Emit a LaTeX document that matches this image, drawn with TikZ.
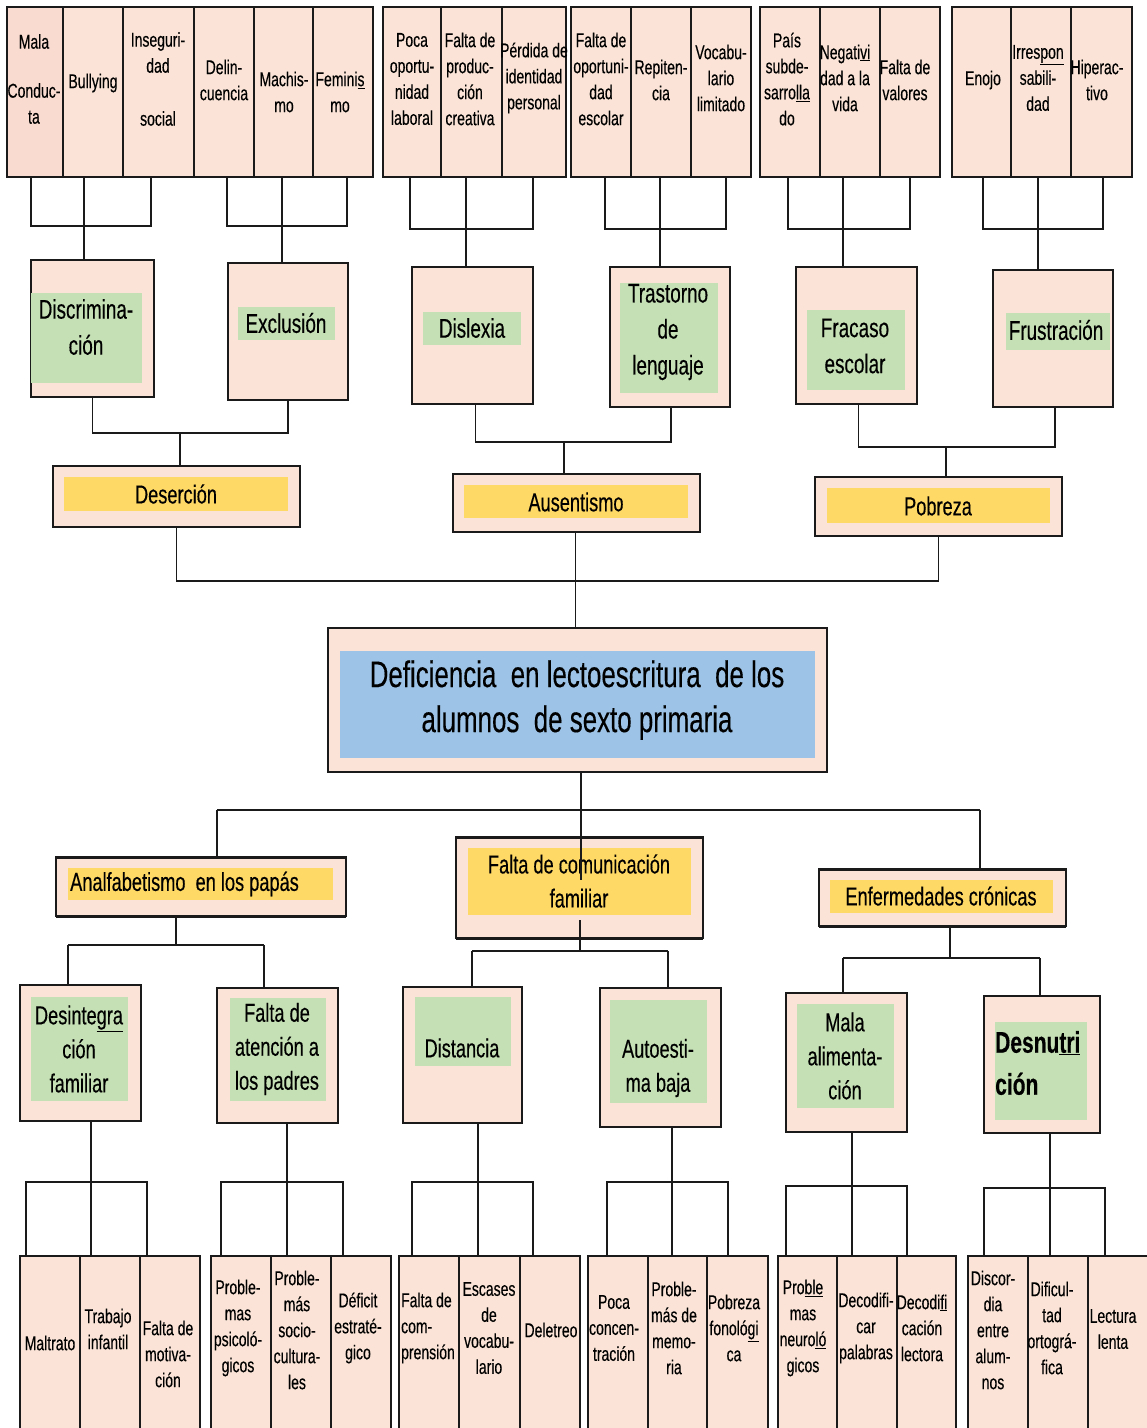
\documentclass[tikz,border=0pt]{standalone}
\usepackage{fontspec}
\setmainfont{Liberation Sans}[FakeStretch=0.7,FakeBold=0.3]
\usetikzlibrary{fit}
\definecolor{pk}{HTML}{FBE4D7}
\definecolor{pkb}{HTML}{F9DBCF}
\definecolor{gr}{HTML}{C5E0B4}
\definecolor{ye}{HTML}{FFD966}
\definecolor{bl}{HTML}{9DC3E6}
\definecolor{bd}{HTML}{1A1A1A}
\newcommand\rbox[6]{\node[#1, fit={(#3,#4) (#5,#6)}] (#2) {};}
\begin{document}
\begin{tikzpicture}[x=1pt,y=-1pt,
  cellbox/.style={draw=bd, fill=pk, line width=1.6pt, inner sep=0pt, outer sep=0pt},
  obox/.style={draw=bd, fill=pk, line width=2pt, inner sep=0pt, outer sep=0pt},
  greenr/.style={fill=gr, inner sep=0pt, outer sep=0pt},
  yellr/.style={fill=ye, inner sep=0pt, outer sep=0pt},
  bluer/.style={fill=bl, inner sep=0pt, outer sep=0pt},
  lnk/.style={draw=bd, line width=1.3pt},
  hlnk/.style={draw=bd, line width=2.4pt},
  ts/.style={font=\fontsize{20}{26}\selectfont, align=center, inner sep=0pt},
  tm/.style={font=\fontsize{27}{36}\selectfont, align=center, inner sep=0pt},
  tl/.style={font=\fontsize{26}{34}\selectfont, align=center, inner sep=0pt},
  tt/.style={font=\fontsize{37}{45}\selectfont, align=center, inner sep=0pt},
]
\useasboundingbox (0,0) rectangle (1147,1428);
\fill[white] (0,0) rectangle (1147,1428);

% ---------------- top cells ----------------
\rbox{cellbox,fill=pkb}{t1}{7}{7}{63}{177}
\rbox{cellbox}{t2}{63}{7}{123}{177}
\rbox{cellbox}{t3}{123}{7}{194}{177}
\rbox{cellbox}{t4}{194}{7}{254}{177}
\rbox{cellbox}{t5}{254}{7}{313}{177}
\rbox{cellbox}{t6}{313}{7}{373}{177}
\rbox{cellbox}{t7}{383}{7}{441}{177}
\rbox{cellbox}{t8}{441}{7}{502}{177}
\rbox{cellbox}{t9}{502}{7}{566}{177}
\rbox{cellbox}{t10}{571}{7}{631}{177}
\rbox{cellbox}{t11}{631}{7}{691}{177}
\rbox{cellbox}{t12}{691}{7}{751}{177}
\rbox{cellbox}{t13}{760}{7}{820}{177}
\rbox{cellbox}{t14}{820}{7}{880}{177}
\rbox{cellbox}{t15}{880}{7}{940}{177}
\rbox{cellbox}{t16}{952}{7}{1011}{177}
\rbox{cellbox}{t17}{1011}{7}{1071}{177}
\rbox{cellbox}{t18}{1071}{7}{1132}{177}

\node[ts] (tx1) at (34,79) {Mala\\[23pt]Conduc-\\ta};
\node[ts] (tx2) at (93,83) {Bullying};
\node[ts] (tx3) at (158,79) {Inseguri-\\dad\\[27pt]social};
\node[ts] (tx4) at (224,80) {Delin-\\cuencia};
\node[ts] (tx5) at (284,92) {Machis-\\mo};
\node[ts] (tx6) at (340,92) {Femini\underline{s}\\mo};
\node[ts] (tx7) at (412,79) {Poca\\oportu-\\nidad\\laboral};
\node[ts] (tx8) at (470,79) {Falta de\\produc-\\ción\\creativa};
\node[ts] (tx9) at (534,78) {Pérdida de\\identidad\\personal};
\node[ts] (tx10) at (601,79) {Falta de\\oportuni-\\dad\\escolar};
\node[ts] (tx11) at (661,80) {Repiten-\\cia};
\node[ts] (tx12) at (721,78) {Vocabu-\\lario\\limitado};
\node[ts] (tx13) at (787,79) {País\\subde-\\sarro\underline{lla}\\do};
\node[ts] (tx14) at (845,78) {Negati\underline{vi}\\dad a la\\vida};
\node[ts] (tx15) at (905,80) {Falta de\\valores};
\node[ts] (tx16) at (983,80) {Enojo};
\node[ts] (tx17) at (1038,78) {Irres\underline{pon}\\sabili-\\dad};
\node[ts] (tx18) at (1097,80) {Hiperac-\\tivo};

% ---------------- second row boxes ----------------
\rbox{obox}{disc}{31}{260}{154}{397}
\rbox{obox}{excl}{228}{263}{348}{400}
\rbox{obox}{disl}{412}{267}{533}{404}
\rbox{obox}{tras}{610}{267}{730}{407}
\rbox{obox}{frac}{796}{267}{917}{404}
\rbox{obox}{frus}{993}{270}{1113}{407}
\rbox{greenr}{discg}{31}{293}{142}{383}
\rbox{greenr}{exclg}{238}{307}{335}{340}
\rbox{greenr}{dislg}{423}{312}{521}{345}
\rbox{greenr}{trasg}{620}{283}{718}{393}
\rbox{greenr}{fracg}{807}{310}{905}{390}
\rbox{greenr}{frusg}{1006}{313}{1110}{350}
\node[tm] (discT) at (86,327) {Discrimina-\\ción};
\node[tm] (exclT) at (286,323) {Exclusión};
\node[tm] (dislT) at (472,328) {Dislexia};
\node[tm] (trasT) at (668,332) {Trastorno\\de\\lenguaje};
\node[tm] (fracT) at (855,346) {Fracaso\\escolar};
\node[tm] (frusT) at (1056,330) {Frustración};

% ---------------- third row ----------------
\rbox{obox}{deser}{53}{466}{300}{527}
\rbox{obox}{ausen}{453}{474}{700}{532}
\rbox{obox}{pobre}{815}{477}{1062}{536}
\rbox{yellr}{deserY}{64}{477}{288}{511}
\rbox{yellr}{ausenY}{464}{485}{688}{518}
\rbox{yellr}{pobreY}{827}{488}{1050}{523}
\node[tl] (deserT) at (176,494) {Deserción};
\node[tl] (ausenT) at (576,502) {Ausentismo};
\node[tl] (pobreT) at (938,506) {Pobreza};

% ---------------- center ----------------
\rbox{obox}{cent}{328}{628}{827}{772}
\rbox{bluer}{centB}{340}{651}{815}{758}
\node[tt] (centT) at (577,700) {Deficiencia\ \ en lectoescritura\ \ de los\\alumnos\ \ de sexto primaria};

% ---------------- lower second level ----------------
\rbox{obox}{anal}{56}{857}{346}{916}
\rbox{obox}{falta}{456}{837}{703}{938}
\rbox{obox}{enfer}{819}{869}{1066}{926}
\foreach \b in {anal,falta,enfer}{
  \draw[bd, line width=3pt] (\b.north west) -- (\b.north east);
  \draw[bd, line width=3pt] (\b.south west) -- (\b.south east);
}
\rbox{yellr}{analY}{68}{868}{333}{900}
\rbox{yellr}{faltaY}{468}{848}{691}{915}
\rbox{yellr}{enferY}{830}{880}{1053}{913}
\node[tl, anchor=west] (analT) at (70,884) {Analfabetismo\ \ en los papás};
\node[tl] (faltaT) at (579,881) {Falta de comunicación\\familiar};
\node[tl] (enferT) at (941,896) {Enfermedades crónicas};

% ---------------- lower third level ----------------
\rbox{obox}{desint}{20}{985}{141}{1121}
\rbox{obox}{fatenc}{217}{988}{338}{1123}
\rbox{obox}{dist}{403}{987}{522}{1123}
\rbox{obox}{autoe}{600}{988}{721}{1127}
\rbox{obox}{malal}{786}{993}{907}{1132}
\rbox{obox}{desnu}{984}{996}{1100}{1133}
\rbox{greenr}{desintG}{31}{997}{128}{1101}
\rbox{greenr}{fatencG}{230}{998}{326}{1101}
\rbox{greenr}{distG}{415}{997}{511}{1066}
\rbox{greenr}{autoeG}{610}{1000}{707}{1103}
\rbox{greenr}{malalG}{797}{1004}{894}{1108}
\rbox{greenr}{desnuG}{995}{1022}{1087}{1120}
\node[tl] (desintT) at (79,1049) {Desinte\underline{gra}\\ción\\familiar};
\node[tl] (fatencT) at (277,1049) {Falta de\\atención a\\los padres};
\node[tl] (distT) at (462,1048) {Distancia};
\node[tl] (autoeT) at (658,1068) {Autoesti-\\ma baja};
\node[tl] (malalT) at (845,1056) {Mala\\alimenta-\\ción};
\node[font=\bfseries\fontsize{30}{42}\selectfont, align=left, inner sep=0pt, anchor=west] (desnuT) at (995,1063) {Desnu\underline{tri}\\ción};

% ---------------- bottom cells ----------------
\rbox{cellbox}{b1}{20}{1256}{80}{1440}
\rbox{cellbox}{b2}{80}{1256}{140}{1440}
\rbox{cellbox}{b3}{140}{1256}{200}{1440}
\rbox{cellbox}{b4}{211}{1256}{271}{1440}
\rbox{cellbox}{b5}{271}{1256}{331}{1440}
\rbox{cellbox}{b6}{331}{1256}{391}{1440}
\rbox{cellbox}{b7}{399}{1256}{459}{1440}
\rbox{cellbox}{b8}{459}{1256}{520}{1440}
\rbox{cellbox}{b9}{520}{1256}{580}{1440}
\rbox{cellbox}{b10}{588}{1256}{648}{1440}
\rbox{cellbox}{b11}{648}{1256}{707}{1440}
\rbox{cellbox}{b12}{707}{1256}{768}{1440}
\rbox{cellbox}{b13}{778}{1256}{837}{1440}
\rbox{cellbox}{b14}{837}{1256}{897}{1440}
\rbox{cellbox}{b15}{897}{1256}{956}{1440}
\rbox{cellbox}{b16}{968}{1256}{1028}{1440}
\rbox{cellbox}{b17}{1028}{1256}{1088}{1440}
\rbox{cellbox}{b18}{1088}{1256}{1150}{1440}

\node[ts] (bx1) at (50,1343) {Maltrato};
\node[ts] (bx2) at (108,1329) {Trabajo\\infantil};
\node[ts] (bx3) at (168,1354) {Falta de\\motiva-\\ción};
\node[ts] (bx4) at (238,1328) {Proble-\\mas\\psicoló-\\gicos};
\node[ts] (bx5) at (297,1330) {Proble-\\más\\socio-\\cultura-\\les};
\node[ts] (bx6) at (358,1328) {Déficit\\estraté-\\gico};
\node[ts, align=left] (bx7) at (428,1328) {Falta de\\com-\\prensión};
\node[ts] (bx8) at (489,1328) {Escases\\de\\vocabu-\\lario};
\node[ts] (bx9) at (551,1330) {Deletreo};
\node[ts] (bx10) at (614,1328) {Poca\\concen-\\tración};
\node[ts] (bx11) at (674,1328) {Proble-\\más de\\memo-\\ria};
\node[ts] (bx12) at (734,1328) {Pobreza\\fonoló\underline{gi}\\ca};
\node[ts] (bx13) at (803,1328) {Pro\underline{ble}\\mas\\neuro\underline{ló}\\gicos};
\node[ts] (bx14) at (866,1328) {Decodifi-\\car\\palabras};
\node[ts] (bx15) at (922,1328) {Decodi\underline{fi}\\cación\\lectora};
\node[ts] (bx16) at (993,1330) {Discor-\\dia\\entre\\alum-\\nos};
\node[ts] (bx17) at (1052,1328) {Dificul-\\tad\\ortográ-\\fica};
\node[ts] (bx18) at (1113,1329) {Lectura\\lenta};

% ---------------- connectors: top cells -> second row ----------------
\coordinate (jA) at (84,226);   \coordinate (jAl) at (31,226);  \coordinate (jAr) at (151,226);
\coordinate (jB) at (282,226);  \coordinate (jBl) at (227,226); \coordinate (jBr) at (347,226);
\coordinate (jC) at (466,229);  \coordinate (jCl) at (410,229); \coordinate (jCr) at (533,229);
\coordinate (jD) at (660,229);  \coordinate (jDl) at (605,229); \coordinate (jDr) at (726,229);
\coordinate (jE) at (843,229);  \coordinate (jEl) at (788,229); \coordinate (jEr) at (910,229);
\coordinate (jF) at (1038,229); \coordinate (jFl) at (983,229); \coordinate (jFr) at (1103,229);
\draw[lnk] (jAl |- t1.south) -- (jAl) -- (jAr) -- (jAr |- t3.south);
\draw[lnk] (jA |- t2.south) -- (jA |- disc.north);
\draw[lnk] (jBl |- t4.south) -- (jBl) -- (jBr) -- (jBr |- t6.south);
\draw[lnk] (jB |- t5.south) -- (jB |- excl.north);
\draw[lnk] (jCl |- t7.south) -- (jCl) -- (jCr) -- (jCr |- t9.south);
\draw[lnk] (jC |- t8.south) -- (jC |- disl.north);
\draw[lnk] (jDl |- t10.south) -- (jDl) -- (jDr) -- (jDr |- t12.south);
\draw[lnk] (jD |- t11.south) -- (jD |- tras.north);
\draw[lnk] (jEl |- t13.south) -- (jEl) -- (jEr) -- (jEr |- t15.south);
\draw[lnk] (jE |- t14.south) -- (jE |- frac.north);
\draw[lnk] (jFl |- t16.south) -- (jFl) -- (jFr) -- (jFr |- t18.south);
\draw[lnk] (jF |- t17.south) -- (jF |- frus.north);

% ---------------- second row -> third row ----------------
\coordinate (kA) at (180,433);
\coordinate (kB) at (564,442);
\coordinate (kC) at (946,447);
\draw[lnk] (disc.south) |- (kA) -| (excl.south);
\draw[lnk] (kA) -- (kA |- deser.north);
\draw[lnk] ([xshift=3pt]disl.south) |- (kB) -| ([xshift=1pt]tras.south);
\draw[lnk] (kB) -- (kB |- ausen.north);
\draw[lnk] ([xshift=2pt]frac.south) |- (kC) -| ([xshift=2pt]frus.south);
\draw[lnk] (kC) -- (kC |- pobre.north);

% ---------------- third row -> center ----------------
\coordinate (kM) at (575,581);
\draw[lnk] (deser.south) |- (kM) -| (pobre.south);
\draw[lnk] ([xshift=-1pt]ausen.south) -- ([xshift=-1pt]ausen.south |- cent.north);

% ---------------- center -> lower ----------------
\coordinate (kL) at (581,810);
\coordinate (kLl) at (217,810);
\coordinate (kLr) at (980,810);
\draw[lnk] (kL |- cent.south) -- (kL);
\draw[hlnk] (kLl) -- (kLr);
\draw[lnk] (kLl) -- (kLl |- anal.north);
\draw[lnk] (kLr) -- (kLr |- enfer.north);
\coordinate (kLin) at (581,880);
\draw[lnk] (kL) -- (kLin);

% ---------------- lower second -> lower third ----------------
\coordinate (mA) at (176,945);  \coordinate (mAl) at (68,945);  \coordinate (mAr) at (264,945);
\coordinate (mB) at (580,951);  \coordinate (mBl) at (472,951); \coordinate (mBr) at (668,951);
\coordinate (mC) at (950,958);  \coordinate (mCl) at (843,958); \coordinate (mCr) at (1040,958);
\coordinate (mBin) at (580,920);
\draw[lnk] (mA |- anal.south) -- (mA);
\draw[hlnk] (mAl) -- (mAr);
\draw[lnk] (mAl) -- (mAl |- desint.north);
\draw[lnk] (mAr) -- (mAr |- fatenc.north);
\draw[lnk] (mBin) -- (mB);
\draw[hlnk] (mBl) -- (mBr);
\draw[lnk] (mBl) -- (mBl |- dist.north);
\draw[lnk] (mBr) -- (mBr |- autoe.north);
\draw[lnk] (mC |- enfer.south) -- (mC);
\draw[hlnk] (mCl) -- (mCr);
\draw[lnk] (mCl) -- (mCl |- malal.north);
\draw[lnk] (mCr) -- (mCr |- desnu.north);

% ---------------- lower third -> bottom cells ----------------
\coordinate (nA) at (91,1182);   \coordinate (nAl) at (26,1182);  \coordinate (nAr) at (147,1182);
\coordinate (nB) at (287,1182);  \coordinate (nBl) at (221,1182); \coordinate (nBr) at (343,1182);
\coordinate (nC) at (478,1182);  \coordinate (nCl) at (412,1182); \coordinate (nCr) at (533,1182);
\coordinate (nD) at (672,1182);  \coordinate (nDl) at (607,1182); \coordinate (nDr) at (728,1182);
\coordinate (nE) at (852,1186);  \coordinate (nEl) at (786,1186); \coordinate (nEr) at (907,1186);
\coordinate (nF) at (1050,1188); \coordinate (nFl) at (984,1188); \coordinate (nFr) at (1105,1188);
\draw[lnk] (nA |- desint.south) -- (nA |- b2.north);
\draw[lnk] (nAl |- b1.north) -- (nAl) -- (nAr) -- (nAr |- b3.north);
\draw[lnk] (nB |- fatenc.south) -- (nB |- b5.north);
\draw[lnk] (nBl |- b4.north) -- (nBl) -- (nBr) -- (nBr |- b6.north);
\draw[lnk] (nC |- dist.south) -- (nC |- b8.north);
\draw[lnk] (nCl |- b7.north) -- (nCl) -- (nCr) -- (nCr |- b9.north);
\draw[lnk] (nD |- autoe.south) -- (nD |- b11.north);
\draw[lnk] (nDl |- b10.north) -- (nDl) -- (nDr) -- (nDr |- b12.north);
\draw[lnk] (nE |- malal.south) -- (nE |- b14.north);
\draw[lnk] (nEl |- b13.north) -- (nEl) -- (nEr) -- (nEr |- b15.north);
\draw[lnk] (nF |- desnu.south) -- (nF |- b17.north);
\draw[lnk] (nFl |- b16.north) -- (nFl) -- (nFr) -- (nFr |- b18.north);
\end{tikzpicture}
\end{document}
